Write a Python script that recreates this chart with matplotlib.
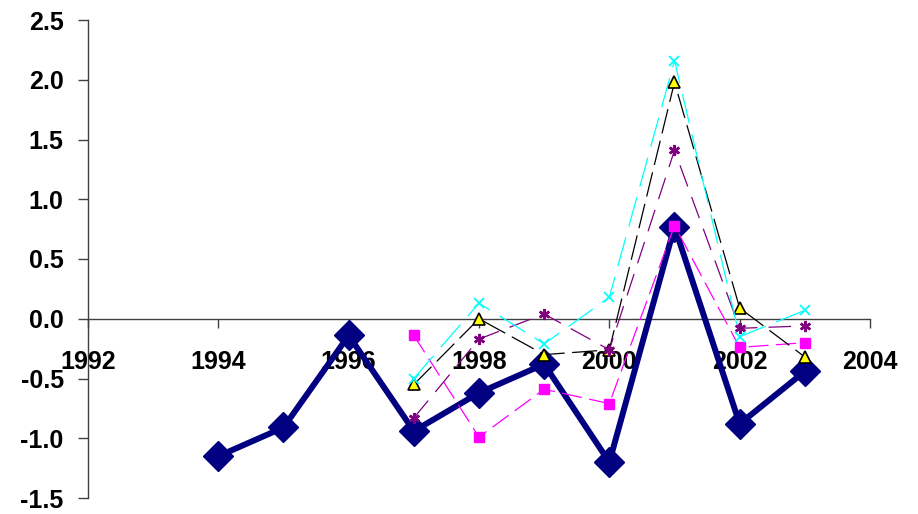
import matplotlib.pyplot as plt

plt.rcParams['font.family'] = ['Liberation Sans', 'DejaVu Sans']

# annual values, 1994-2003 for the main series, 1997-2003 for the others
years_main = [1994, 1995, 1996, 1997, 1998, 1999, 2000, 2001, 2002, 2003]
main_vals = [-1.15, -0.91, -0.14, -0.94, -0.62, -0.38, -1.20, 0.77, -0.88, -0.44]

years_sub = [1997, 1998, 1999, 2000, 2001, 2002, 2003]
square_vals = [-0.14, -0.99, -0.59, -0.71, 0.78, -0.24, -0.20]
star_vals = [-0.83, -0.17, 0.04, -0.26, 1.41, -0.08, -0.06]
tri_vals = [-0.55, 0.00, -0.30, -0.26, 1.98, 0.09, -0.32]
cross_vals = [-0.50, 0.13, -0.21, 0.18, 2.16, -0.15, 0.07]

xticks = [1992, 1994, 1996, 1998, 2000, 2002, 2004]
yticks = [-1.5, -1.0, -0.5, 0.0, 0.5, 1.0, 1.5, 2.0, 2.5]

fig = plt.figure(figsize=(9.18, 5.14), dpi=100)
ax = fig.add_axes([88 / 918, 16 / 514, 782 / 918, 478 / 514])

ax.plot(years_main, main_vals, color='#000080', lw=4.3, marker='D', ms=15,
        mfc='#000080', mec='#000080', zorder=3)
ax.plot(years_sub, square_vals, color='#ff00ff', lw=0.9, dashes=(16, 6),
        marker='s', ms=6.5, mfc='#ff00ff', mec='#ff00ff', zorder=4)
ax.plot(years_sub, tri_vals, color='black', lw=0.9, dashes=(20, 6),
        marker='^', ms=9, mfc='#ffff00', mec='black', mew=1.2, zorder=5)
ax.plot(years_sub, star_vals, color='#800080', lw=0.9, dashes=(18, 9),
        marker=(6, 2, 0), ms=8, mec='#800080', mew=1.8, zorder=6)
ax.plot(years_sub, cross_vals, color='#00ffff', lw=0.9, dashes=(24, 9),
        marker='x', ms=7, mec='#00ffff', mew=1.3, zorder=7)

ax.set_xlim(1992, 2004)
ax.set_ylim(-1.5, 2.5)
ax.set_xticks(xticks)
ax.set_yticks(yticks)
ax.set_yticklabels([f'{v:.1f}' for v in yticks])

for side in ['top', 'right']:
    ax.spines[side].set_visible(False)
ax.spines['bottom'].set_position(('data', 0))
for side in ['left', 'bottom']:
    ax.spines[side].set_color('#404040')
    ax.spines[side].set_linewidth(1)
    ax.spines[side].set_zorder(1)

ax.tick_params(axis='x', direction='out', length=6.5, width=1, color='#404040',
               pad=16, labelsize=18)
ax.tick_params(axis='y', direction='out', length=7.5, width=1, color='#404040',
               pad=10, labelsize=18)
for lab in ax.get_xticklabels() + ax.get_yticklabels():
    lab.set_fontweight('bold')

fig.savefig('out.png', dpi=100)
